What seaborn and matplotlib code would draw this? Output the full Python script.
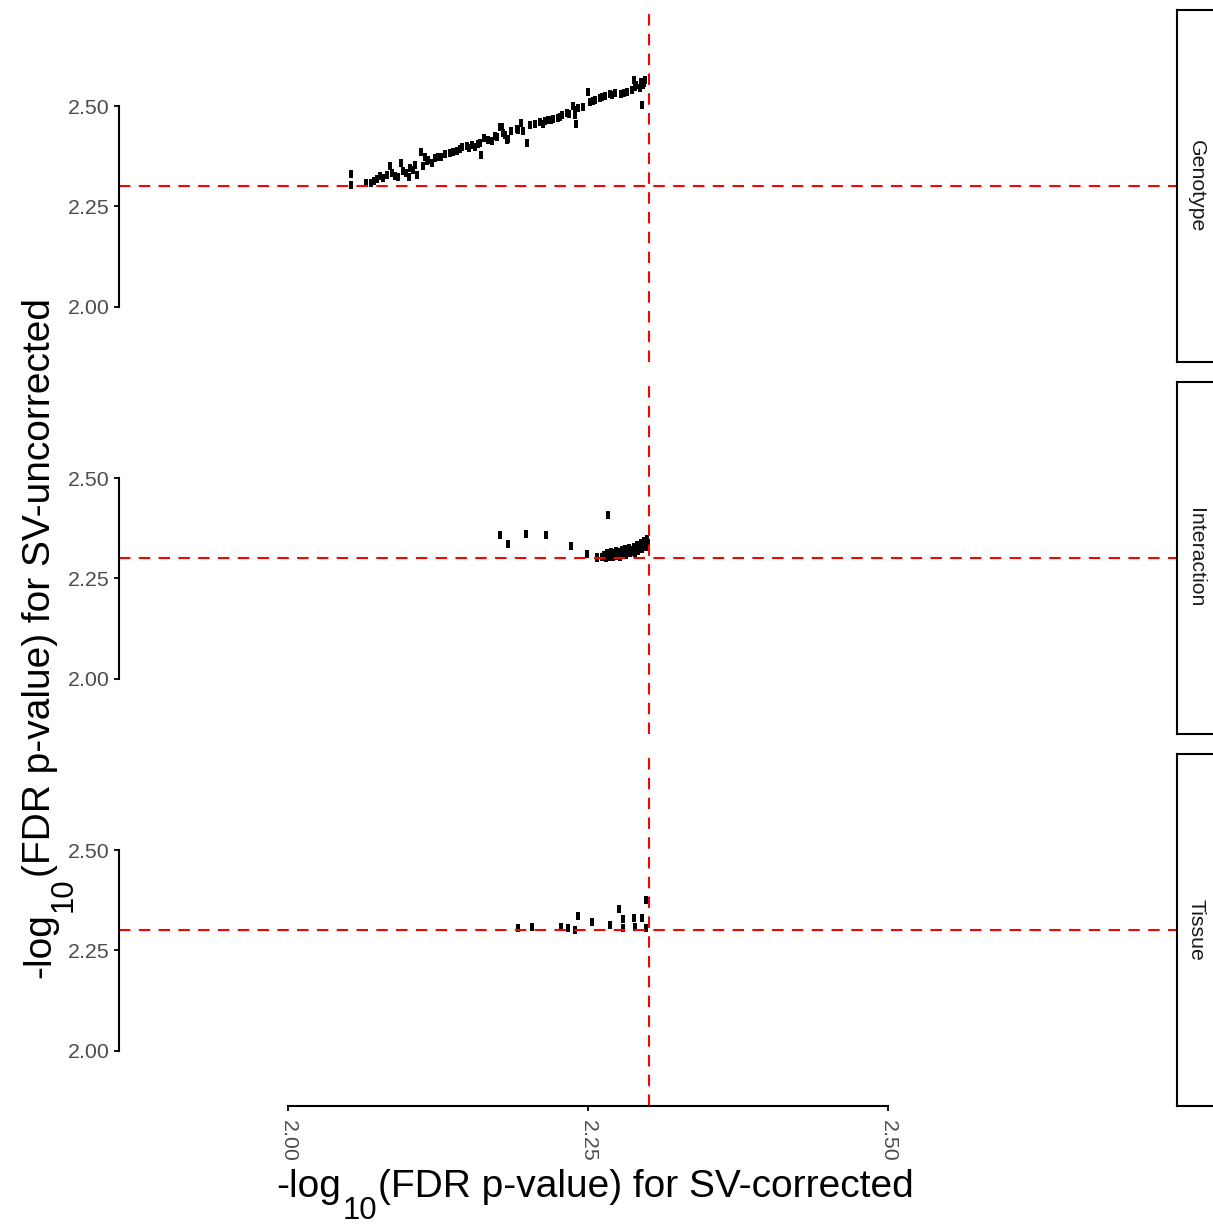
import numpy as np
import pandas as pd
import matplotlib
matplotlib.use("Agg")
import matplotlib.pyplot as plt
import seaborn as sns

# -log10(FDR p) pairs: SV-corrected (x) vs SV-uncorrected (y), per model term
genotype_x = [2.0525, 2.0525, 2.065, 2.069, 2.072, 2.074, 2.077, 2.0825, 2.085, 2.087,
              2.089, 2.092, 2.094, 2.098, 2.101, 2.102, 2.106, 2.1075, 2.111, 2.1125,
              2.114, 2.117, 2.120, 2.1225, 2.125, 2.1275, 2.135, 2.1375, 2.141, 2.145,
              2.149, 2.153, 2.156, 2.160, 2.161, 2.163, 2.167, 2.170, 2.1725, 2.174,
              2.177, 2.178, 2.179, 2.181, 2.1825, 2.183, 2.186, 2.191, 2.194, 2.196,
              2.199, 2.202, 2.210, 2.2125, 2.217, 2.221, 2.225, 2.228, 2.2325, 2.2375,
              2.239, 2.240, 2.242, 2.246, 2.250, 2.252, 2.256, 2.260, 2.264, 2.268,
              2.2725, 2.2775, 2.2825, 2.2865, 2.288, 2.290, 2.294, 2.297, 2.295, 2.293,
              2.2975, 2.239, 2.227, 2.214, 2.192, 2.079, 2.096, 2.104, 2.116, 2.131,
              2.143, 2.151, 2.158, 2.206, 2.219, 2.234, 2.254, 2.262, 2.270, 2.280,
              2.289, 2.296]
genotype_y = [2.330, 2.303, 2.308, 2.308, 2.313, 2.318, 2.325, 2.328, 2.350, 2.333,
              2.325, 2.323, 2.358, 2.333, 2.323, 2.345, 2.353, 2.328, 2.385, 2.350,
              2.373, 2.365, 2.358, 2.370, 2.373, 2.373, 2.383, 2.385, 2.388, 2.398,
              2.400, 2.403, 2.398, 2.408, 2.378, 2.420, 2.415, 2.413, 2.425, 2.423,
              2.448, 2.448, 2.433, 2.428, 2.415, 2.418, 2.438, 2.443, 2.458, 2.438,
              2.408, 2.453, 2.460, 2.455, 2.465, 2.468, 2.470, 2.478, 2.483, 2.500,
              2.478, 2.455, 2.495, 2.498, 2.535, 2.510, 2.515, 2.520, 2.525, 2.530,
              2.532, 2.530, 2.535, 2.540, 2.565, 2.552, 2.560, 2.557, 2.502, 2.545,
              2.565, 2.490, 2.473, 2.463, 2.440, 2.320, 2.338, 2.340, 2.362, 2.380,
              2.392, 2.396, 2.404, 2.455, 2.466, 2.480, 2.512, 2.522, 2.528, 2.533,
              2.548, 2.553]

interaction_x = [2.1767, 2.1833, 2.1983, 2.215, 2.2358, 2.2667, 2.249, 2.2575, 2.2575,
                 2.262, 2.263, 2.265, 2.266, 2.267, 2.268, 2.269, 2.270, 2.271, 2.272,
                 2.273, 2.274, 2.275, 2.276, 2.277, 2.278, 2.279, 2.280, 2.281, 2.282,
                 2.283, 2.284, 2.285, 2.286, 2.287, 2.288, 2.289, 2.290, 2.291, 2.292,
                 2.293, 2.294, 2.295, 2.296, 2.297, 2.298, 2.299, 2.300, 2.2995, 2.264,
                 2.270, 2.276, 2.282, 2.288, 2.294]
interaction_y = [2.358, 2.335, 2.360, 2.358, 2.330, 2.408, 2.3105, 2.300, 2.303,
                 2.303, 2.309, 2.301, 2.312, 2.306, 2.302, 2.315, 2.308, 2.303, 2.312,
                 2.318, 2.306, 2.310, 2.315, 2.304, 2.320, 2.309, 2.314, 2.323, 2.307,
                 2.318, 2.326, 2.312, 2.321, 2.316, 2.329, 2.313, 2.324, 2.334, 2.319,
                 2.328, 2.338, 2.322, 2.332, 2.343, 2.327, 2.349, 2.338, 2.345, 2.306,
                 2.305, 2.309, 2.313, 2.320, 2.330]

tissue_x = [2.1917, 2.2033, 2.2275, 2.2333, 2.239, 2.2417, 2.2533, 2.2683, 2.2758,
            2.2792, 2.2792, 2.2883, 2.2892, 2.295, 2.2983, 2.2983]
tissue_y = [2.3055, 2.308, 2.308, 2.3055, 2.300, 2.335, 2.320, 2.313, 2.353,
            2.328, 2.305, 2.330, 2.308, 2.330, 2.3055, 2.375]

terms = ["Genotype", "Interaction", "Tissue"]
tick_values = [2.00, 2.25, 2.50]
tick_labels = ["2.00", "2.25", "2.50"]
threshold = -np.log10(0.005)

df = pd.concat([
    pd.DataFrame({"x": genotype_x, "y": genotype_y, "term": "Genotype"}),
    pd.DataFrame({"x": interaction_x, "y": interaction_y, "term": "Interaction"}),
    pd.DataFrame({"x": tissue_x, "y": tissue_y, "term": "Tissue"}),
], ignore_index=True)

sns.set_theme(style="white")
plt.rcParams["font.family"] = ["Liberation Sans", "DejaVu Sans"]

W, H = 1213, 1224
fig = plt.figure(figsize=(W / 100, H / 100), dpi=100)

left, right = 119, 1177
panel_tops = [10, 382, 754]
panel_h = 352
strip_w = 38

# slightly tall rectangle, as the points render in the original device
rect_marker = [(-0.7, -1.0), (0.7, -1.0), (0.7, 1.0), (-0.7, 1.0), (-0.7, -1.0)]
dash = (0, (5.5, 4.0))

for i, term in enumerate(terms):
    top = panel_tops[i]
    ax = fig.add_axes([left / W, 1 - (top + panel_h) / H, (right - left) / W, panel_h / H])
    sub = df[df["term"] == term]
    sns.scatterplot(data=sub, x="x", y="y", ax=ax, marker=rect_marker, s=26,
                    color="black", linewidth=0, legend=False)
    ax.axhline(threshold, color="red", lw=1.5, ls=dash, zorder=1)
    ax.axvline(threshold, color="red", lw=1.5, ls=dash, zorder=1)
    ax.set_xlim(1.8592, 2.7408)
    ax.set_ylim(1.8616, 2.7394)
    ax.set_facecolor("white")
    ax.grid(False)
    for side in ["top", "right"]:
        ax.spines[side].set_visible(False)
    ax.spines["left"].set_bounds(2.0, 2.5)
    ax.spines["left"].set_color("black")
    ax.spines["left"].set_linewidth(1.5)
    ax.set_yticks(tick_values)
    ax.set_yticklabels(tick_labels)
    ax.tick_params(axis="y", direction="out", length=3.6, width=1.3, color="black",
                   pad=3.2, labelsize=15.4, labelcolor="#4D4D4D", left=True)
    ax.set_xlabel("")
    ax.set_ylabel("")
    if i < 2:
        ax.spines["bottom"].set_visible(False)
        ax.set_xticks([])
    else:
        ax.spines["bottom"].set_bounds(2.0, 2.5)
        ax.spines["bottom"].set_color("black")
        ax.spines["bottom"].set_linewidth(1.5)
        ax.set_xticks(tick_values)
        ax.set_xticklabels(tick_labels, rotation=-90, va="top", ha="center")
        ax.tick_params(axis="x", direction="out", length=3.6, width=1.3, color="black",
                       pad=6.5, labelsize=15.4, labelcolor="#4D4D4D", bottom=True)

    # facet strip on the right
    sax = fig.add_axes([right / W, 1 - (top + panel_h) / H, strip_w / W, panel_h / H])
    sax.set_xticks([])
    sax.set_yticks([])
    sax.set_facecolor("white")
    for sp in sax.spines.values():
        sp.set_visible(True)
        sp.set_color("black")
        sp.set_linewidth(1.5)
    sax.text(0.5, 0.5, term, rotation=-90, ha="center", va="center",
             fontsize=15.3, color="#1A1A1A", transform=sax.transAxes)


def axis_title(pieces, center, baseline, vertical):
    """Lay out a title made of (text, size, drop_px) pieces along one line."""
    renderer = fig.canvas.get_renderer()
    rot = 90 if vertical else 0
    texts = []
    for txt, size, drop in pieces:
        t = fig.text(0, 0, txt, fontsize=size, color="black", rotation=rot,
                     rotation_mode="anchor", ha="left", va="baseline")
        texts.append((t, drop))
    lengths = []
    for t, _ in texts:
        bb = t.get_window_extent(renderer)
        lengths.append(bb.height if vertical else bb.width)
    total = sum(lengths)
    pos = center - total / 2
    for (t, drop), ln in zip(texts, lengths):
        if vertical:
            t.set_position(((baseline + drop) / W, pos / H))
        else:
            t.set_position((pos / W, 1 - (baseline + drop) / H))
        pos += ln + 1


axis_title([("-log", 28, 0), ("10", 22.4, 22), ("(FDR p-value) for SV-corrected", 28, 0)],
           center=594, baseline=1197, vertical=False)
axis_title([("-log", 28, 0), ("10", 22.4, 22), ("(FDR p-value) for SV-uncorrected", 28, 0)],
           center=H - 639, baseline=50, vertical=True)

fig.savefig("out.png", dpi=100, facecolor="white")
